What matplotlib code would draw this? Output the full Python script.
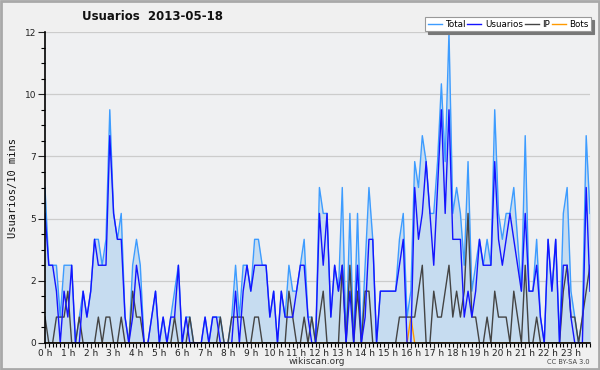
import matplotlib
matplotlib.use("Agg")
import matplotlib.pyplot as plt
from matplotlib.patches import Rectangle
from matplotlib.ticker import FixedLocator, MultipleLocator

# ---- data (10-minute slots, 144 per day) ----
total = [6, 3, 3, 3, 1, 3, 3, 3, 0, 1, 2, 1, 2, 4, 4, 3, 4, 9, 5, 4, 5, 1, 0, 3,
         4, 3, 0, 0, 1, 2, 0, 1, 0, 1, 2, 3, 0, 1, 1, 0, 0, 0, 1, 0, 1, 1, 1, 0,
         0, 1, 3, 1, 3, 3, 2, 4, 4, 3, 3, 1, 2, 0, 2, 1, 3, 2, 2, 3, 4, 1, 1, 0,
         6, 5, 5, 1, 3, 2, 6, 0, 5, 0, 5, 0, 3, 6, 4, 0, 2, 2, 2, 2, 2, 4, 5, 1,
         2, 7, 6, 8, 7, 5, 5, 7, 10, 7, 12, 5, 6, 5, 3, 7, 2, 3, 4, 3, 4, 3, 9, 5,
         4, 5, 5, 6, 4, 2, 8, 2, 2, 4, 1, 0, 4, 2, 4, 0, 5, 6, 2, 1, 0, 1, 8, 5]
usuarios = [5, 3, 3, 2, 0, 2, 1, 3, 0, 0, 2, 1, 2, 4, 3, 3, 3, 8, 5, 4, 4, 1, 0, 1,
            3, 2, 0, 0, 1, 2, 0, 1, 0, 1, 1, 3, 0, 1, 0, 0, 0, 0, 1, 0, 1, 1, 0, 0,
            0, 0, 2, 0, 2, 3, 2, 3, 3, 3, 3, 1, 2, 0, 2, 1, 1, 1, 2, 3, 3, 1, 0, 0,
            5, 3, 5, 1, 3, 2, 3, 0, 2, 0, 3, 0, 1, 4, 4, 0, 2, 2, 2, 2, 2, 3, 4, 0,
            0, 6, 4, 5, 7, 5, 3, 6, 9, 5, 9, 4, 4, 4, 1, 2, 1, 2, 4, 3, 3, 3, 7, 4,
            3, 4, 5, 4, 3, 2, 5, 2, 2, 3, 1, 0, 4, 2, 4, 0, 3, 3, 1, 0, 0, 0, 6, 2]
ip = [1, 0, 0, 1, 1, 1, 2, 0, 0, 1, 0, 0, 0, 0, 1, 0, 1, 1, 0, 0, 1, 0, 0, 2,
      1, 1, 0, 0, 0, 0, 0, 0, 0, 0, 1, 0, 0, 0, 1, 0, 0, 0, 0, 0, 0, 0, 1, 0,
      0, 1, 1, 1, 1, 0, 0, 1, 1, 0, 0, 0, 0, 0, 0, 0, 2, 1, 0, 0, 1, 0, 1, 0,
      1, 2, 0, 0, 0, 0, 3, 0, 3, 0, 2, 0, 2, 2, 0, 0, 0, 0, 0, 0, 0, 1, 1, 1,
      1, 1, 2, 3, 0, 0, 2, 1, 1, 2, 3, 1, 2, 1, 2, 5, 1, 1, 0, 0, 1, 0, 2, 1,
      1, 1, 0, 2, 1, 0, 3, 0, 0, 1, 0, 0, 0, 0, 0, 0, 2, 3, 1, 1, 0, 1, 2, 3]
bots = [0] * 96 + [1] + [0] * 47

hour_labels = ["%d h" % h for h in range(24)]
ytick_values = [0, 2.4, 4.8, 7.2, 9.6, 12]
ytick_labels = ["0", "2", "5", "7", "10", "12"]

x = list(range(len(total)))

# ---- figure ----
fig = plt.figure(figsize=(6.0, 3.7), dpi=100, facecolor="#f0f0f0")
fig.patches.append(Rectangle((0.0015, 0.0025), 0.997, 0.995, transform=fig.transFigure,
                             fill=False, edgecolor="#a9a9a9", linewidth=2.0, zorder=0))
ax = fig.add_axes([45 / 600, 1 - 343 / 370, 545 / 600, 311 / 370])
ax.set_facecolor("#eff0f2")

ax.fill_between(x, total, 0, color="#c6dcf0", linewidth=0, zorder=1)
ax.plot(x, total, color="#3d9cff", linewidth=1.0, label="Total", zorder=3)
ax.plot(x, bots, color="#ff9a00", linewidth=1.0, label="Bots", zorder=2.5)
ax.plot(x, ip, color="#444444", linewidth=1.0, label="IP", zorder=4)
ax.plot(x, usuarios, color="#1414ff", linewidth=1.0, label="Usuarios", zorder=5)

ax.set_xlim(0, len(total) - 1)
ax.set_ylim(0, 12)

ax.yaxis.set_major_locator(FixedLocator(ytick_values))
ax.set_yticklabels(ytick_labels)
ax.yaxis.set_minor_locator(MultipleLocator(0.6))
ax.xaxis.set_major_locator(FixedLocator([6 * h for h in range(24)]))
ax.set_xticklabels(hour_labels)
ax.xaxis.set_minor_locator(MultipleLocator(1))

ax.tick_params(axis="y", which="major", direction="out", length=5, width=0.8,
               labelsize=6.5, colors="#222222", pad=1.5)
ax.tick_params(axis="x", which="major", direction="out", length=3.5, width=0.8,
               labelsize=6.5, colors="#222222", pad=0.5)
ax.tick_params(axis="both", which="minor", direction="out", length=3, width=0.8)
ax.grid(axis="y", which="major", color="#cccccc", linewidth=0.9, zorder=0)
ax.set_axisbelow(True)

for s in ["top", "right"]:
    ax.spines[s].set_visible(False)
for s in ["left", "bottom"]:
    ax.spines[s].set_color("black")
    ax.spines[s].set_linewidth(1.2)
    ax.spines[s].set_zorder(6)

ax.set_ylabel("Usuarios/10 mins", family="DejaVu Sans Mono", fontsize=7.5,
              color="#111111", labelpad=5)

fig.text(317 / 600, 1 - 361 / 370, "wikiscan.org", ha="center", va="center",
         fontsize=6.5, color="#333333")
fig.text(152 / 600, 1 - 16 / 370, "Usuarios  2013-05-18", ha="center", va="center",
         fontsize=8.5, fontweight="bold", color="#111111")
fig.text(590 / 600, 1 - 362 / 370, "CC BY-SA 3.0", ha="right", va="center",
         fontsize=4.8, color="#444444")

handles, labels = ax.get_legend_handles_labels()
order = [labels.index(n) for n in ["Total", "Usuarios", "IP", "Bots"]]
leg = ax.legend([handles[i] for i in order], [labels[i] for i in order],
                loc="upper right", bbox_to_anchor=(591 / 600, 1 - 17 / 370),
                bbox_transform=fig.transFigure, ncol=4, fontsize=6.3,
                frameon=True, fancybox=False, shadow={"color": "#777777", "alpha": 1},
                handlelength=1.6, handletextpad=0.4, columnspacing=0.2,
                borderpad=0.3, borderaxespad=0)
leg.get_frame().set_edgecolor("#999999")
leg.get_frame().set_linewidth(0.8)
leg.set_zorder(10)

fig.savefig("out.png", dpi=100, facecolor=fig.get_facecolor())
